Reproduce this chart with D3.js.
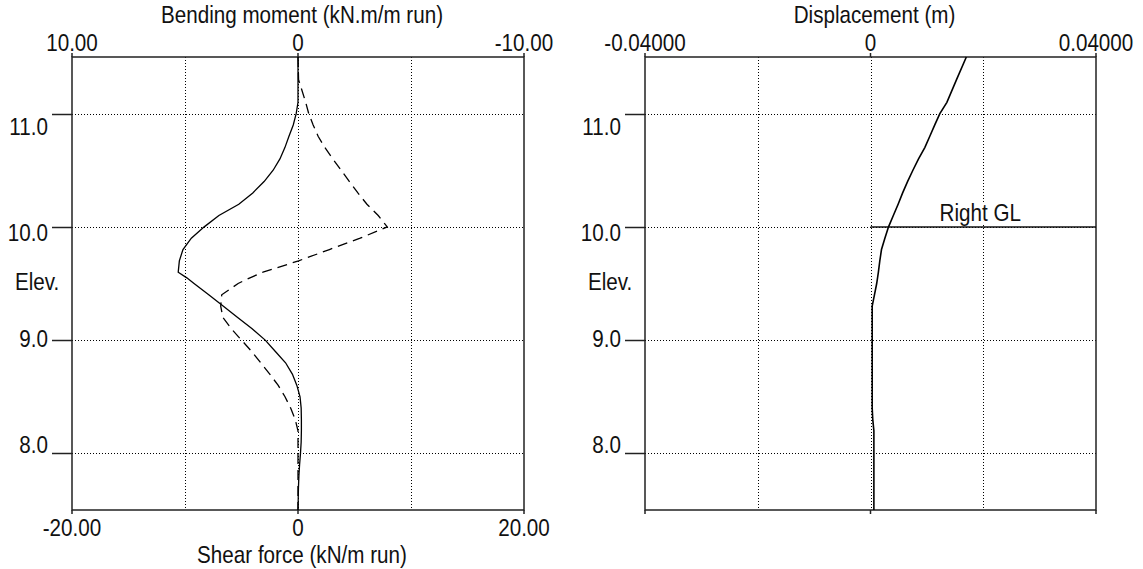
<!DOCTYPE html>
<html>
<head>
<meta charset="utf-8">
<script src="https://cdnjs.cloudflare.com/ajax/libs/d3/7.8.5/d3.min.js"></script>
<style>
body { margin: 0; background: #fff; }
text { font-family: "Liberation Sans", Arial, sans-serif; font-size: 24px; fill: #111; }
</style>
</head>
<body>
<script>
// values, top of wall down to toe
var elevations    = [11.5, 11.3, 11.1, 11.0, 10.9, 10.8, 10.7, 10.6, 10.5, 10.4, 10.3, 10.2, 10.1, 10.0,
                     9.9, 9.8, 9.7, 9.6, 9.55, 9.5, 9.4, 9.3, 9.2, 9.1, 9.0, 8.9, 8.8, 8.7, 8.6, 8.5,
                     8.4, 8.3, 8.2, 8.1, 8.0, 7.9, 7.8, 7.7, 7.6, 7.5];
var bendingMoment = [0, 0, 0, 0.08, 0.21, 0.40, 0.58, 0.80, 1.10, 1.50, 2.00, 2.62, 3.50, 4.15,
                     4.72, 5.09, 5.25, 5.30, 4.92, 4.60, 3.95, 3.30, 2.67, 2.03, 1.45, 1.00, 0.55, 0.25, 0.05, -0.09,
                     -0.14, -0.15, -0.15, -0.14, -0.11, -0.07, -0.04, -0.02, -0.01, 0];
var shearForce    = [0, 0.05, 0.68, 0.95, 1.34, 1.78, 2.38, 3.08, 3.82, 4.55, 5.30, 6.10, 7.10, 7.90,
                     5.50, 2.78, 0.05, -3.10, -4.25, -5.30, -6.75, -6.84, -6.65, -5.90, -5.00, -4.10, -3.30, -2.50, -1.75, -1.15,
                     -0.65, -0.25, 0, 0, 0, 0, 0, 0, 0, 0];
var displacement  = [0.0170, 0.01526, 0.01355, 0.0123, 0.0114, 0.01052, 0.00963, 0.00852, 0.00752, 0.00657, 0.00570, 0.00490, 0.00405, 0.0032,
                     0.00255, 0.00195, 0.00165, 0.0014, 0.00125, 0.0011, 0.0007, 0.0003, 0.0003, 0.0003, 0.0003, 0.0003, 0.0003, 0.0003, 0.0003, 0.0003,
                     0.0003, 0.0004, 0.0006, 0.0006, 0.0006, 0.0006, 0.0006, 0.0006, 0.0006, 0.0006];

var elevTicks = [11.0, 10.0, 9.0, 8.0];
var momentTicks = [10, 0, -10];
var shearTicks = [-20, 0, 20];
var dispTicks = [-0.04, 0, 0.04];
var momentGrid = [5, 0, -5];
var dispGrid = [-0.02, 0, 0.02];
var groundLevel = 10.0;
var groundLabel = "Right GL";

var width = 1143, height = 569;
var top0 = 57, bot0 = 510;

var svg = d3.select("body").append("svg")
            .attr("width", width)
            .attr("height", height);

var y = d3.scaleLinear().domain([11.5, 7.5]).range([top0, bot0]);
// the old program spaces its elevation labels a bit tighter than the ticks
var labelY = d3.scaleLinear().domain([11, 8]).range([135, 453]);

function fmt(v, p) {
  if (v === 0) return "0";
  return d3.format("." + p + "f")(v).replace("\u2212", "-");
}

function addText(g, x, yy, str, anchor) {
  return g.append("text")
          .attr("transform", "translate(" + x + "," + yy + ") scale(0.86,1)")
          .attr("text-anchor", anchor)
          .text(str);
}

function px(v) { return Math.round(v) + 0.5; }

function panel(x0, x1, topScale, topTicks, topDigits, topTitle, grid, bottomScale, bottomTicks, bottomTitle) {
  var g = svg.append("g");
  var mid = (x0 + x1) / 2;

  // dotted grid
  g.selectAll(".hgrid").data(elevTicks).enter().append("line")
    .attr("x1", x0).attr("x2", x1)
    .attr("y1", function(d) { return px(y(d)); }).attr("y2", function(d) { return px(y(d)); })
    .attr("stroke", "#000").attr("stroke-width", 1).attr("stroke-dasharray", "1,2");
  g.selectAll(".vgrid").data(grid).enter().append("line")
    .attr("x1", function(d) { return px(topScale(d)); }).attr("x2", function(d) { return px(topScale(d)); })
    .attr("y1", top0).attr("y2", bot0)
    .attr("stroke", "#000").attr("stroke-width", 1).attr("stroke-dasharray", "1,2");

  // frame
  g.append("rect").attr("x", x0).attr("y", top0).attr("width", x1 - x0).attr("height", bot0 - top0)
    .attr("fill", "none").attr("stroke", "#222").attr("stroke-width", 1.5);

  // elevation ticks + labels
  g.selectAll(".etick").data(elevTicks).enter().append("line")
    .attr("x1", x0 - 20).attr("x2", x0)
    .attr("y1", function(d) { return px(y(d)); }).attr("y2", function(d) { return px(y(d)); })
    .attr("stroke", "#222").attr("stroke-width", 1.5);
  elevTicks.forEach(function(d) { addText(g, x0 - 24, labelY(d), d.toFixed(1), "end"); });
  addText(g, x0 - 57, 290, "Elev.", "start");

  // top axis
  topTicks.forEach(function(d) {
    g.append("line").attr("x1", topScale(d)).attr("x2", topScale(d)).attr("y1", top0 - 4).attr("y2", top0)
      .attr("stroke", "#222").attr("stroke-width", 1.5);
    addText(g, topScale(d), 51, fmt(d, topDigits), "middle");
  });
  addText(g, mid + 4, 23, topTitle, "middle");

  // bottom axis
  var bt = bottomScale ? bottomTicks : topTicks;
  var bs = bottomScale || topScale;
  bt.forEach(function(d) {
    g.append("line").attr("x1", bs(d)).attr("x2", bs(d)).attr("y1", bot0).attr("y2", bot0 + 4)
      .attr("stroke", "#222").attr("stroke-width", 1.5);
    if (bottomScale) addText(g, bs(d), 536, fmt(d, 2), "middle");
  });
  if (bottomTitle) addText(g, mid + 4, 563, bottomTitle, "middle");
  return g;
}

// left: bending moment (solid) and shear force (dashed)
var xMoment = d3.scaleLinear().domain([10, -10]).range([72, 524]);
var xShear = d3.scaleLinear().domain([-20, 20]).range([72, 524]);
var left = panel(72, 524, xMoment, momentTicks, 2, "Bending moment (kN.m/m run)", momentGrid,
                 xShear, shearTicks, "Shear force (kN/m run)");

var momentLine = d3.line()
  .x(function(d, i) { return xMoment(bendingMoment[i]); })
  .y(function(d) { return y(d); });
var shearLine = d3.line()
  .x(function(d, i) { return xShear(shearForce[i]); })
  .y(function(d) { return y(d); });

left.append("path").attr("d", shearLine(elevations))
  .attr("fill", "none").attr("stroke", "#000").attr("stroke-width", 1.3).attr("stroke-dasharray", "10,6");
left.append("path").attr("d", momentLine(elevations))
  .attr("fill", "none").attr("stroke", "#000").attr("stroke-width", 1.3);

// right: displacement
var xDisp = d3.scaleLinear().domain([-0.04, 0.04]).range([645, 1096]);
var right = panel(645, 1096, xDisp, dispTicks, 5, "Displacement (m)", dispGrid, null, null, null);

right.append("line")
  .attr("x1", xDisp(0)).attr("x2", xDisp(0.04))
  .attr("y1", y(groundLevel)).attr("y2", y(groundLevel))
  .attr("stroke", "#111").attr("stroke-width", 1.5);
var glx = (xDisp(0) + xDisp(0.04)) / 2 - 3;
var glText = addText(right, glx, y(groundLevel) - 6, groundLabel, "middle");
var bb = glText.node().getBBox();
right.insert("rect", "text")
  .attr("x", glx - bb.width * 0.86 / 2 - 1).attr("y", y(groundLevel) - 6 - 18)
  .attr("width", bb.width * 0.86 + 2).attr("height", 22)
  .attr("fill", "#fff");

var dispLine = d3.line()
  .x(function(d, i) { return xDisp(displacement[i]); })
  .y(function(d) { return y(d); });
right.append("path").attr("d", dispLine(elevations))
  .attr("fill", "none").attr("stroke", "#000").attr("stroke-width", 1.6);
</script>
</body>
</html>
